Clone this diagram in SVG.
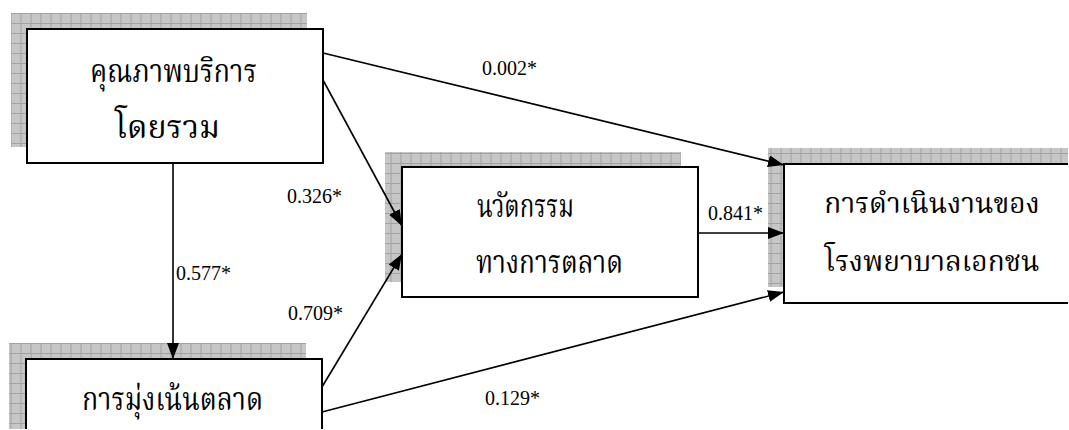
<svg xmlns="http://www.w3.org/2000/svg" width="1069" height="430" viewBox="0 0 1069 430">
<style>
.box{fill:#fff;stroke:#000;stroke-width:2}
.sh{fill:url(#grid)}
.th{font-family:"Liberation Serif","Noto Serif Thai","Noto Sans Thai","DejaVu Serif",serif;font-size:32px;fill:#000}
.th3{font-family:"Liberation Serif","Noto Serif Thai","Noto Sans Thai","DejaVu Serif",serif;font-size:28px;fill:#000;text-anchor:middle}
.num{font-family:"Liberation Serif","Times New Roman",serif;font-size:20px;fill:#000}
.ln{stroke:#000;stroke-width:1.6;fill:none;marker-end:url(#ah)}
</style>
<defs>
<pattern id="grid" width="10" height="10" patternUnits="userSpaceOnUse" x="0.5" y="3">
<rect width="10" height="10" fill="#c6c6c6"/>
<path d="M0 0.5H10M0.5 0V10" stroke="#a2a2a2" stroke-width="1"/>
</pattern>
<marker id="ah" viewBox="0 0 16 12" refX="16" refY="6" markerWidth="16" markerHeight="12" markerUnits="userSpaceOnUse" orient="auto">
<path d="M0 0L16 6L0 12z" fill="#000"/>
</marker>
</defs>
<g id="n1">
<rect class="sh" x="11" y="13" width="296" height="134"/>
<rect class="box" x="27" y="29" width="296" height="134"/>
<text class="th" x="90" y="82" textLength="167" lengthAdjust="spacingAndGlyphs">คุณภาพบริการ</text>
<text class="th" x="115" y="138" textLength="105" lengthAdjust="spacingAndGlyphs">โดยรวม</text>
</g>
<g id="n2">
<rect class="sh" x="385" y="152" width="296" height="130"/>
<rect class="box" x="402" y="167" width="296" height="130"/>
<text class="th" x="477" y="217" textLength="97" lengthAdjust="spacingAndGlyphs">นวัตกรรม</text>
<text class="th" x="476" y="273" textLength="147" lengthAdjust="spacingAndGlyphs">ทางการตลาด</text>
</g>
<g id="n3">
<rect class="sh" x="768" y="148" width="300" height="139"/>
<rect x="784" y="164" width="284" height="139" fill="#fff"/>
<path d="M1068 164H784V303H1068" fill="none" stroke="#000" stroke-width="2"/>
<text class="th3" x="932" y="213">การดำเนินงานของ</text>
<text class="th3" x="932" y="271">โรงพยาบาลเอกชน</text>
</g>
<g id="n4">
<rect class="sh" x="9" y="343" width="297" height="86"/>
<path d="M26 429V359H322V429" fill="#fff" stroke="#000" stroke-width="2"/>
<text class="th" x="82" y="410" textLength="181" lengthAdjust="spacingAndGlyphs">การมุ่งเน้นตลาด</text>
</g>
<g id="connectors">
<line class="ln" x1="173" y1="163" x2="173" y2="359"/>
<line class="ln" x1="323" y1="53" x2="784" y2="165"/>
<line class="ln" x1="323" y1="80" x2="402" y2="226"/>
<line class="ln" x1="322" y1="387" x2="402" y2="254"/>
<line class="ln" x1="322" y1="412" x2="784" y2="292"/>
<line class="ln" x1="698" y1="233" x2="784" y2="233"/>
</g>
<g id="labels">
<text class="num" x="482" y="75">0.002*</text>
<text class="num" x="287" y="203">0.326*</text>
<text class="num" x="176" y="280">0.577*</text>
<text class="num" x="288" y="320">0.709*</text>
<text class="num" x="708" y="220">0.841*</text>
<text class="num" x="485" y="405">0.129*</text>
</g>
</svg>
